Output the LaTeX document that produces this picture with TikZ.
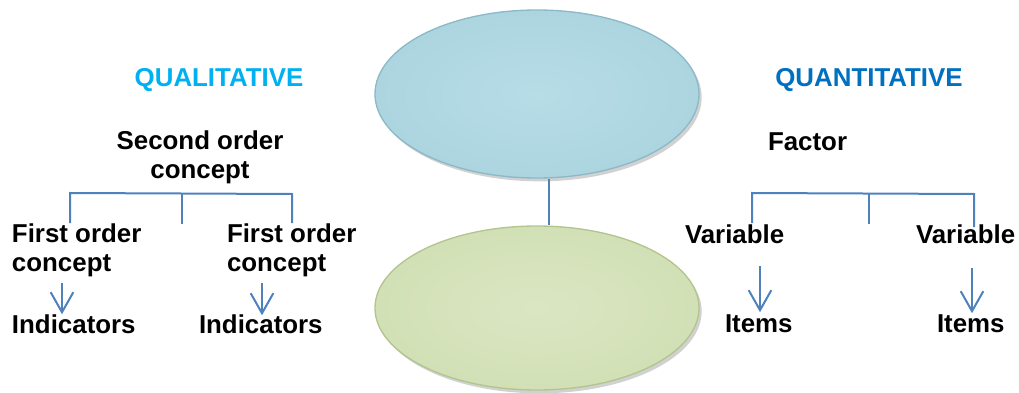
\documentclass[tikz,border=0pt]{standalone}
\usepackage{fontspec}
\setmainfont{Liberation Sans}
\usetikzlibrary{shapes.geometric,arrows.meta,shadows,calc}
\definecolor{lnblue}{HTML}{4F81BD}
\definecolor{qualc}{HTML}{00B0F0}
\definecolor{quanc}{HTML}{0070C0}
\definecolor{topin}{HTML}{B7DDE7}
\definecolor{topout}{HTML}{ACD5E0}
\definecolor{topedge}{HTML}{8CB9C8}
\definecolor{botin}{HTML}{DAE6C2}
\definecolor{botout}{HTML}{D2E0B6}
\definecolor{botedge}{HTML}{B3C48F}
\tikzset{
  lbl/.style={inner sep=0pt, outer sep=0pt, font=\bfseries\fontsize{19.4pt}{21.75pt}\selectfont},
  conn/.style={draw=lnblue, line width=1.5pt},
  arr/.style={draw=lnblue, line width=1.5pt, -{Straight Barb[length=15pt,width=17pt]}},
  oval/.style={ellipse, inner sep=0pt, minimum width=243pt, line width=1pt, drop shadow={shadow xshift=2pt, shadow yshift=-2.5pt, opacity=0.3, fill=black!60}}
}
\begin{document}
\begin{tikzpicture}[x=0.75pt,y=-0.75pt]
\useasboundingbox (0,0) rectangle (1019,392);
% ellipses
\node[oval, minimum height=126pt, draw=topedge, inner color=topin, outer color=topout] (top) at (537,94) {};
\node[oval, minimum height=123pt, draw=botedge, inner color=botin, outer color=botout] (bot) at (537,308) {};
\draw[conn] ($(top.south)+(12,0)$) -- ($(bot.north)+(12,0)$);
% headings
\node[lbl, text=qualc, anchor=base] (qual) at (219,87) {QUALITATIVE};
\node[lbl, text=quanc, anchor=base] (quan) at (869,87) {QUANTITATIVE};
% left tree
\node[lbl, align=center, anchor=north] (so) at (200,131) {Second order\\concept};
\node[lbl, align=left, anchor=north west] (fo1) at (12,224) {First order\\concept};
\node[lbl, align=left, anchor=north west] (fo2) at (227,224) {First order\\ concept};
\node[lbl, anchor=base west] (ind1) at (12,333) {Indicators};
\node[lbl, anchor=base west] (ind2) at (199,333) {Indicators};
\coordinate (lbA) at (70,193);
\coordinate (lbB) at (292,194);
\coordinate (lbM) at (182,193.5);
\draw[conn] ($(fo1.north west)+(58,-1)$) -- (lbA) -- (lbB) -- ($(fo2.north west)+(65,-1)$);
\draw[conn] (lbM) -- (182,224);
\draw[arr] (62,283) -- ($(ind1.north west)+(50,0)$);
\draw[arr] (262,283) -- ($(ind2.north west)+(63,1)$);
% right tree
\node[lbl, anchor=base west] (fac) at (768,150) {Factor};
\node[lbl, anchor=base west] (var1) at (685,243) {Variable};
\node[lbl, anchor=base west] (var2) at (916,243) {Variable};
\node[lbl, anchor=base west] (it1) at (725,332) {Items};
\node[lbl, anchor=base west] (it2) at (937,332) {Items};
\coordinate (rbA) at (752,193);
\coordinate (rbB) at (974,194);
\coordinate (rbM) at (869,193.5);
\draw[conn] (752,223) -- (rbA) -- (rbB) -- (974,227);
\draw[conn] (rbM) -- (869,224);
\draw[arr] (760,266) -- ($(it1.north west)+(35,-2)$);
\draw[arr] (972,268) -- ($(it2.north west)+(35,-1)$);
\end{tikzpicture}
\end{document}
